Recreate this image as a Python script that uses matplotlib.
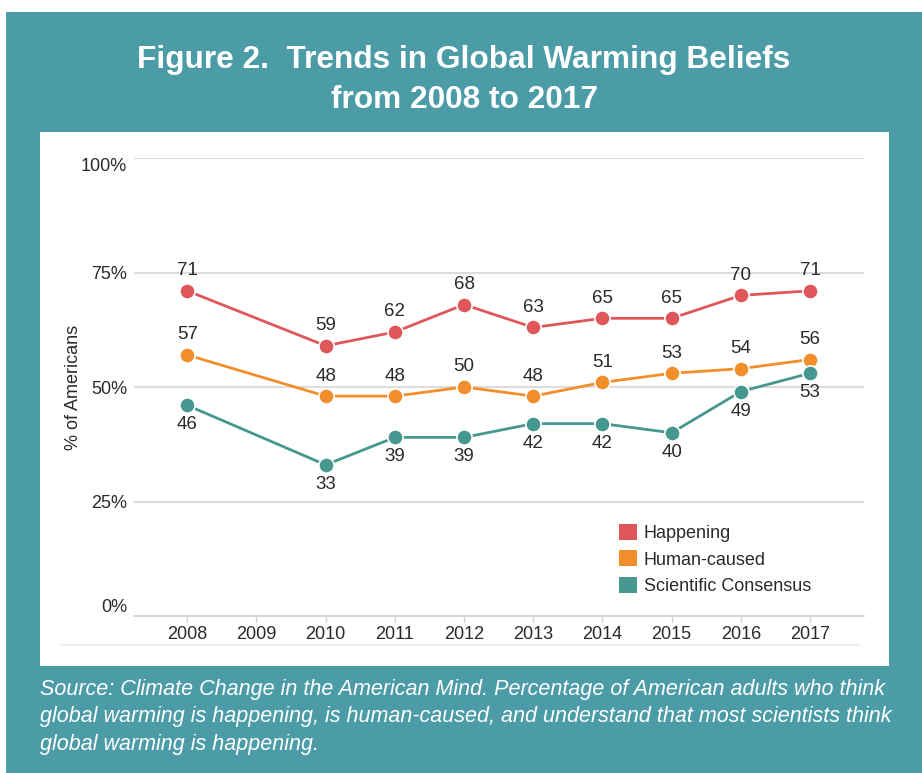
import matplotlib
matplotlib.use('Agg')
import matplotlib.pyplot as plt
from matplotlib.patches import Rectangle, Patch
from matplotlib.lines import Line2D

plt.rcParams['font.family'] = ['Liberation Sans', 'DejaVu Sans']

# 数据
years = [2008, 2010, 2011, 2012, 2013, 2014, 2015, 2016, 2017]
happening = [71, 59, 62, 68, 63, 65, 65, 70, 71]
human_caused = [57, 48, 48, 50, 48, 51, 53, 54, 56]
consensus = [46, 33, 39, 39, 42, 42, 40, 49, 53]
xticks = list(range(2008, 2018))
yticks = [0, 25, 50, 75, 100]
series_names = ['Happening', 'Human-caused', 'Scientific Consensus']

bg_teal = '#4c9ca7'
colors = ['#e0575b', '#f28e2b', '#46978f']
text_col = '#2a2a2a'

fig = plt.figure(figsize=(9.22, 7.73), dpi=100)
W, H = 922, 773

# 背景
fig.patches.append(Rectangle((6 / W, 0), 1 - 6 / W, 1 - 12 / H, transform=fig.transFigure,
                             facecolor=bg_teal, edgecolor='none', zorder=0))
fig.patches.append(Rectangle((40 / W, 1 - 666 / H), (889 - 40) / W, (666 - 132) / H,
                             transform=fig.transFigure, facecolor='white', edgecolor='none', zorder=0))
fig.lines.append(Line2D([62 / W, 860 / W], [1 - 645 / H, 1 - 645 / H], transform=fig.transFigure,
                        color='#ececec', lw=1.2, zorder=1))

# 标题
fig.text(464 / W, 1 - 60 / H, 'Figure 2.  Trends in Global Warming Beliefs', ha='center', va='center',
         color='white', fontsize=22.8, fontweight='bold')
fig.text(464 / W, 1 - 100 / H, 'from 2008 to 2017', ha='center', va='center',
         color='white', fontsize=22.8, fontweight='bold')

# 注释
caption = ('Source: Climate Change in the American Mind. Percentage of American adults who think\n'
           'global warming is happening, is human-caused, and understand that most scientists think\n'
           'global warming is happening.')
fig.text(40 / W, 1 - 679 / H, caption, ha='left', va='top', color='white', fontsize=15.5,
         fontstyle='italic', linespacing=1.4)

ax = fig.add_axes([134 / W, 1 - 616 / H, 730 / W, (616 - 158) / H], zorder=3)
ax.set_facecolor('none')
ax.set_xlim(2007.23, 2017.78)
ax.set_ylim(0, 100)

for v in yticks[1:]:
    ax.axhline(v, color='#dddddd', lw=1.5, zorder=1)

for s in ['top', 'right', 'left']:
    ax.spines[s].set_visible(False)
ax.spines['bottom'].set_color('#d0d0d0')
ax.spines['bottom'].set_linewidth(1.2)

ax.set_xticks(xticks)
ax.set_xticklabels([str(x) for x in xticks])
ax.set_yticks(yticks)
ax.set_yticklabels([f'{v}%' for v in yticks])
ax.tick_params(axis='x', length=4, width=1, color='#d0d0d0', pad=3, labelsize=13, labelcolor=text_col)
ax.tick_params(axis='y', length=0, pad=5, labelsize=13, labelcolor=text_col)
ylabels = ax.get_yticklabels()
ylabels[0].set_va('bottom')
ylabels[-1].set_va('top')

ax.set_ylabel('% of Americans', fontsize=13, color=text_col)
ax.yaxis.set_label_coords(-0.071, 0.5)

all_series = [happening, human_caused, consensus]
offsets = [14.5, 14.5, -14]
for vals, c, off in zip(all_series, colors, offsets):
    ax.plot(years, vals, color=c, lw=2, marker='o', markersize=11, markerfacecolor=c,
            markeredgecolor='white', markeredgewidth=1.2, zorder=3, clip_on=False)
    for x, v in zip(years, vals):
        ax.annotate(str(v), (x, v), xytext=(0, off), textcoords='offset points', ha='center',
                    va='center', fontsize=13.5, color=text_col, zorder=4)

# 图例
handles = [Patch(facecolor=c, edgecolor='none') for c in colors]
ax.legend(handles, series_names, loc='upper left', bbox_to_anchor=(0.664, 0.201), frameon=False,
          fontsize=13, handlelength=1.0, handleheight=1.0, handletextpad=0.4, labelspacing=0.45,
          borderpad=0, borderaxespad=0, labelcolor=text_col)

fig.savefig('out.png', dpi=100, facecolor='white')
